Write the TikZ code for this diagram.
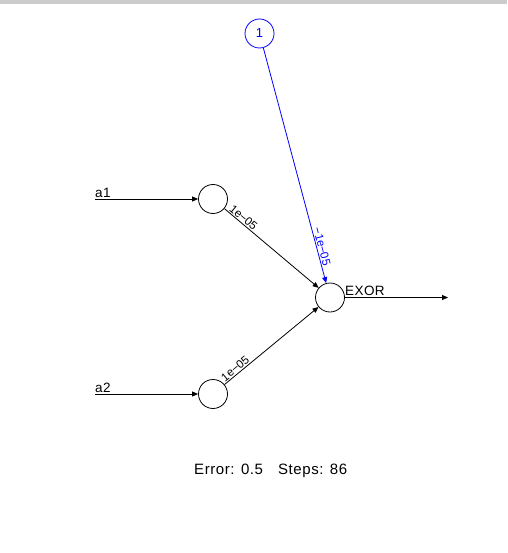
\documentclass[tikz,border=0pt]{standalone}
\usepackage{fontspec}
\setmainfont{Liberation Sans}
\usetikzlibrary{arrows.meta}
\tikzset{
  neuron/.style={circle,draw=black,line width=0.8pt,minimum size=29pt,inner sep=0pt,
    font=\fontsize{13}{15}\selectfont},
  conn/.style={line width=0.8pt,-{Triangle[length=6pt,width=5pt]}},
  wlabel/.style={sloped,above,inner sep=1pt,font=\fontsize{11.5}{13}\selectfont},
  iolabel/.style={anchor=base west,inner sep=0pt,font=\fontsize{13.5}{15}\selectfont\addfontfeature{LetterSpace=3}},
  biascol/.style={draw=blue,text=blue}
}
\begin{document}
\begin{tikzpicture}[x=1pt,y=-1pt]
\useasboundingbox (0,0) rectangle (507,553);
\fill[gray!40] (0,0) rectangle (507,4);
\node[neuron,biascol] (b) at (259.5,33.5) {1};
\node[neuron] (h1) at (213,199) {};
\node[neuron] (h2) at (213,394) {};
\node[neuron] (o) at (330,297.5) {};
\coordinate (i1) at (95,199);
\coordinate (i2) at (95,394);
\coordinate (oe) at (448,297.5);
\draw[conn] (i1) -- (h1);
\draw[conn] (i2) -- (h2);
\draw[conn] (o) -- (oe);
\node[iolabel] (la1) at (95,197) {a1};
\node[iolabel] (la2) at (95,392) {a2};
\node[iolabel] (lo) at (345,295) {EXOR};
\draw[conn] (h1) -- node[wlabel,pos=0.166] (w1) {1e−05} (o);
\draw[conn] (h2) -- node[wlabel,pos=0.15] (w2) {1e−05} (o);
\draw[conn,blue] (b) -- node[wlabel,pos=0.85,text=blue] (wb) {−1e−05} (o);
\node[anchor=base,inner sep=0pt,font=\fontsize{15}{17}\selectfont\addfontfeature{LetterSpace=4}] (err) at (270.7,474) {Error: 0.5\quad Steps: 86};
\end{tikzpicture}
\end{document}
